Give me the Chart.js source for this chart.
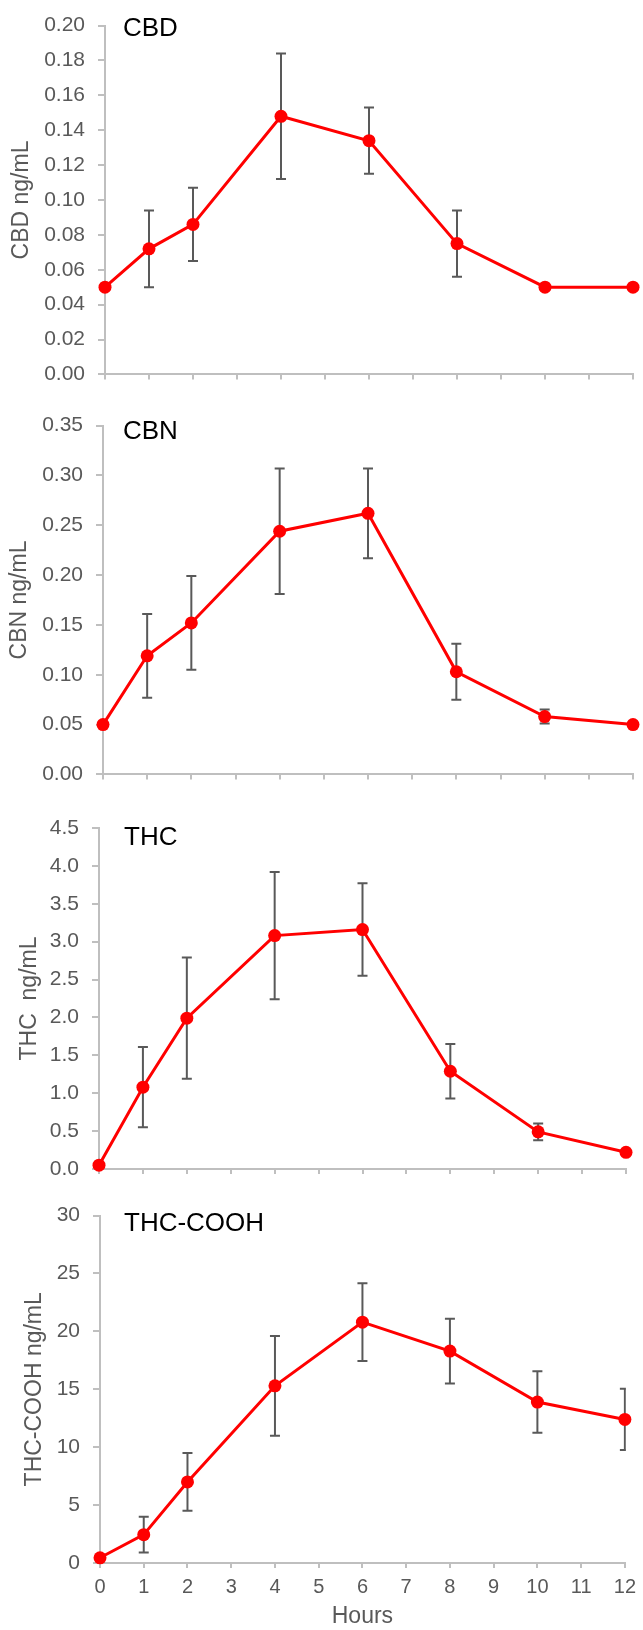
<!DOCTYPE html>
<html>
<head>
<meta charset="utf-8">
<script src="https://cdn.jsdelivr.net/npm/chart.js@4.4.1/dist/chart.umd.min.js"></script>
<style>
  body { margin: 0; background: #fff; }
  #wrap { position: relative; width: 643px; height: 1630px; }
  .panel { position: absolute; left: 0; }
</style>
</head>
<body>
<div id="wrap">
  <canvas id="cbdChart" class="panel" width="643" height="400" style="top:0px"></canvas>
  <canvas id="cbnChart" class="panel" width="643" height="400" style="top:400px"></canvas>
  <canvas id="thcChart" class="panel" width="643" height="400" style="top:800px"></canvas>
  <canvas id="coohChart" class="panel" width="643" height="440" style="top:1190px"></canvas>
</div>
<script>
// sampling times (hours)
const hours = [0, 1, 2, 4, 6, 8, 10, 12];

// mean concentrations and +/- error
const cbdMean = [0.05, 0.072, 0.086, 0.148, 0.134, 0.075, 0.05, 0.05];
const cbdErr = [0, 0.022, 0.021, 0.036, 0.019, 0.019, 0, 0];

const cbnMean = [0.05, 0.119, 0.152, 0.244, 0.262, 0.103, 0.058, 0.05];
const cbnErr = [0, 0.042, 0.047, 0.063, 0.045, 0.028, 0.007, 0];

const thcMean = [0.05, 1.08, 1.99, 3.08, 3.16, 1.29, 0.49, 0.22];
const thcErr = [0, 0.53, 0.8, 0.84, 0.61, 0.36, 0.11, 0];

const coohMean = [0.45, 2.45, 7.0, 15.3, 20.8, 18.3, 13.9, 12.4];
const coohErr = [0, 1.54, 2.49, 4.31, 3.35, 2.8, 2.66, 2.65];

const FONT = "'Liberation Sans', Arial, Helvetica, sans-serif";
const GREY_TEXT = "#595959";
const AXIS_GREY = "#bfbfbf";

Chart.defaults.font.family = FONT;

const errorBarPlugin = {
  id: "errorBars",
  beforeDatasetsDraw(chart) {
    const ds = chart.data.datasets[0];
    const errs = ds.errors || [];
    const { ctx, chartArea, scales } = chart;
    ctx.save();
    ctx.beginPath();
    ctx.rect(chartArea.left - 10, chartArea.top - 30, chartArea.right - chartArea.left + 11, chartArea.bottom - chartArea.top + 60);
    ctx.clip();
    ctx.strokeStyle = GREY_TEXT;
    ctx.lineWidth = 2;
    ds.data.forEach((pt, i) => {
      const e = errs[i];
      if (!e) return;
      const x = scales.x.getPixelForValue(pt.x);
      const yTop = scales.y.getPixelForValue(pt.y + e);
      const yBot = scales.y.getPixelForValue(pt.y - e);
      ctx.beginPath();
      ctx.moveTo(x, yTop);
      ctx.lineTo(x, yBot);
      ctx.moveTo(x - 5, yTop);
      ctx.lineTo(x + 5, yTop);
      ctx.moveTo(x - 5, yBot);
      ctx.lineTo(x + 5, yBot);
      ctx.stroke();
    });
    ctx.restore();
  }
};

const panelLabelPlugin = {
  id: "panelLabel",
  afterDraw(chart, args, opts) {
    const { ctx, chartArea } = chart;
    ctx.save();
    ctx.font = `26px ${FONT}`;
    ctx.fillStyle = "#000";
    ctx.textBaseline = "middle";
    ctx.textAlign = "left";
    ctx.fillText(opts.text, chartArea.left + opts.dx, chartArea.top + opts.dy);
    ctx.restore();
  }
};

function makePanel(cfg) {
  const points = hours.map((h, i) => ({ x: h, y: cfg.mean[i] }));
  return new Chart(document.getElementById(cfg.canvas), {
    type: "line",
    data: {
      datasets: [
        {
          data: points,
          errors: cfg.err,
          borderColor: "#ff0000",
          backgroundColor: "#ff0000",
          borderWidth: 3,
          pointRadius: 6.5,
          pointBorderWidth: 0,
          pointBackgroundColor: "#ff0000",
          tension: 0,
          clip: false
        }
      ]
    },
    options: {
      responsive: false,
      animation: false,
      layout: { padding: cfg.pad },
      plugins: {
        legend: { display: false },
        tooltip: { enabled: false },
        panelLabel: { text: cfg.label, dx: cfg.labelDx, dy: cfg.labelDy }
      },
      scales: {
        x: {
          type: "linear",
          min: 0,
          max: 12,
          afterFit(scale) { scale.height = cfg.xHeight; },
          border: { color: AXIS_GREY, width: 2 },
          grid: { drawOnChartArea: false, drawTicks: true, tickLength: 5, color: AXIS_GREY, lineWidth: 2 },
          ticks: {
            display: cfg.showX,
            stepSize: 1,
            autoSkip: false,
            maxRotation: 0,
            padding: 7,
            color: GREY_TEXT,
            font: { size: 20 }
          },
          title: {
            display: cfg.showX,
            text: "Hours",
            color: GREY_TEXT,
            font: { size: 23 },
            padding: { top: 0, bottom: 0 }
          }
        },
        y: {
          min: 0,
          max: cfg.yMax,
          afterFit(scale) { scale.width = cfg.axisX; },
          border: { color: AXIS_GREY, width: 2 },
          grid: { drawOnChartArea: false, drawTicks: true, tickLength: 7, color: AXIS_GREY, lineWidth: 2 },
          ticks: {
            stepSize: cfg.yStep,
            padding: 13,
            color: GREY_TEXT,
            font: { size: 21 },
            callback: (v) => Number(v).toFixed(cfg.decimals)
          },
          title: {
            display: true,
            text: cfg.yTitle,
            color: GREY_TEXT,
            font: { size: 23 },
            padding: { top: cfg.titlePad, bottom: 0 }
          }
        }
      }
    },
    plugins: [errorBarPlugin, panelLabelPlugin]
  });
}

makePanel({
  canvas: "cbdChart", mean: cbdMean, err: cbdErr, label: "CBD", yTitle: "CBD ng/mL",
  yMax: 0.2, yStep: 0.02, decimals: 2, axisX: 105, titlePad: 8,
  pad: { top: 23, bottom: 6, left: 0, right: 10 }, xHeight: 8, showX: false,
  labelDx: 18, labelDy: 3
});

makePanel({
  canvas: "cbnChart", mean: cbnMean, err: cbnErr, label: "CBN", yTitle: "CBN ng/mL",
  yMax: 0.35, yStep: 0.05, decimals: 2, axisX: 103, titlePad: 6,
  pad: { top: 24, bottom: 7, left: 0, right: 10 }, xHeight: 8, showX: false,
  labelDx: 20, labelDy: 6
});

makePanel({
  canvas: "thcChart", mean: thcMean, err: thcErr, label: "THC", yTitle: "THC  ng/mL",
  yMax: 4.5, yStep: 0.5, decimals: 1, axisX: 99, titlePad: 16,
  pad: { top: 28, bottom: 23, left: 0, right: 17 }, xHeight: 8, showX: false,
  labelDx: 25, labelDy: 10
});

makePanel({
  canvas: "coohChart", mean: coohMean, err: coohErr, label: "THC-COOH", yTitle: "THC-COOH ng/mL",
  yMax: 30, yStep: 5, decimals: 0, axisX: 100, titlePad: 21,
  pad: { top: 19, bottom: 0, left: 0, right: 14 }, xHeight: 67, showX: true,
  labelDx: 24, labelDy: 8
});
</script>
</body>
</html>
